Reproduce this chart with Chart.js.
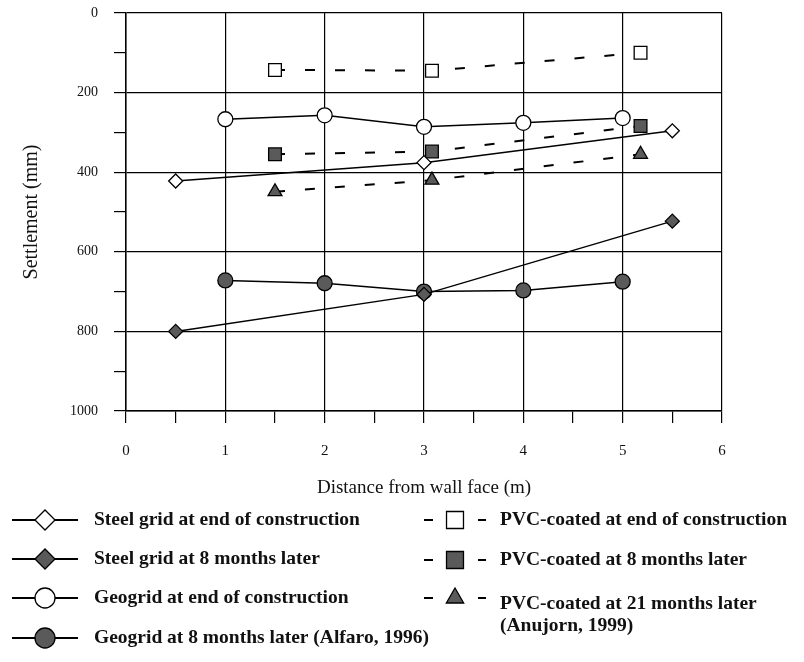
<!DOCTYPE html>
<html>
<head>
<meta charset="utf-8">
<script src="https://cdn.jsdelivr.net/npm/chart.js@4.4.0/dist/chart.umd.min.js"></script>
<style>
html, body { margin: 0; padding: 0; background: #fff; }
#wrap { width: 804px; height: 662px; }
</style>
</head>
<body>
<div id="wrap"><canvas id="grafico" width="804" height="662"></canvas></div>
<script>
// dados (recalque em mm x distancia em m)
const xSteel = [0.5, 3, 5.5];
const steelFim = [422, 376, 296];
const steel8m = [800, 707, 523];

const xGeo = [1, 2, 3, 4, 5];
const geoFim = [267, 257, 286, 276, 264];
const geo8m = [672, 679, 700, 697, 675];

const xPvc = [1.5, 3.08, 5.18];
const pvcFim = [143, 145, 100];
const pvc8m = [355, 348, 284];
const pvc21m = [449, 420, 355];

const xTicks = [0, 1, 2, 3, 4, 5, 6];
const yTicks = [0, 200, 400, 600, 800, 1000];

const nomes = [
    'Steel grid at end of construction',
    'Steel grid at 8 months later',
    'Geogrid at end of construction',
    'Geogrid at 8 months later (Alfaro, 1996)',
    'PVC-coated at end of construction',
    'PVC-coated at 8 months later',
    'PVC-coated at 21 months later\n(Anujorn, 1999)'
];

const FONTE = '"Liberation Serif", "Times New Roman", serif';
const CINZA = '#5a5a5a';

const pares = (xs, ys) => xs.map((x, i) => ({ x: x, y: ys[i] }));

function serie(label, xs, ys, estilo, preenchido, tracejado, raio) {
    return {
        label: label,
        data: pares(xs, ys),
        borderColor: '#000',
        borderWidth: tracejado ? 2 : 1.5,
        borderDash: tracejado ? [10, 20] : [],
        pointStyle: estilo,
        pointRadius: raio,
        pointHoverRadius: raio,
        pointBorderWidth: 1.3,
        pointBorderColor: '#000',
        pointBackgroundColor: preenchido ? CINZA : '#fff',
        fill: false,
        tension: 0
    };
}

const datasets = [
    serie(nomes[0], xSteel, steelFim, 'rectRot', false, false, 7),
    serie(nomes[2], xGeo, geoFim, 'circle', false, false, 7.5),
    serie(nomes[4], xPvc, pvcFim, 'rect', false, true, 9),
    serie(nomes[1], xSteel, steel8m, 'rectRot', true, false, 7),
    serie(nomes[3], xGeo, geo8m, 'circle', true, false, 7.5),
    serie(nomes[5], xPvc, pvc8m, 'rect', true, true, 9),
    serie(nomes[6], xPvc, pvc21m, 'triangle', true, true, 8)
];

// posicao de cada item da legenda: [indice do dataset, coluna, y]
const itensLegenda = [
    [0, 'esq', 520], [3, 'esq', 559], [1, 'esq', 598], [4, 'esq', 638],
    [2, 'dir', 520], [5, 'dir', 560], [6, 'dir', 598]
];

const legendaPlugin = {
    id: 'legendaCustom',
    afterDraw(chart) {
        const ctx = chart.ctx;
        ctx.save();
        itensLegenda.forEach(([idx, coluna, y]) => {
            const ds = chart.data.datasets[idx];
            const mx = coluna === 'esq' ? 45 : 455;
            const tx = coluna === 'esq' ? 94 : 500;
            ctx.strokeStyle = '#000';
            ctx.lineWidth = 2;
            ctx.setLineDash([]);
            ctx.beginPath();
            if (coluna === 'esq') {
                ctx.moveTo(12, y); ctx.lineTo(78, y);
            } else {
                ctx.moveTo(424, y); ctx.lineTo(433, y);
                ctx.moveTo(478, y); ctx.lineTo(486, y);
            }
            ctx.stroke();
            ctx.fillStyle = ds.pointBackgroundColor;
            ctx.strokeStyle = '#000';
            ctx.lineWidth = 1.3;
            Chart.helpers.drawPoint(ctx, {
                pointStyle: ds.pointStyle,
                radius: ds.pointStyle === 'circle' ? 10 : (ds.pointStyle === 'rect' ? 12 : 10),
                rotation: 0,
                borderWidth: 1.3
            }, mx, y);
            ctx.fillStyle = '#111';
            ctx.font = 'bold 19.5px ' + FONTE;
            ctx.textBaseline = 'middle';
            ctx.textAlign = 'left';
            const linhas = ds.label.split('\n');
            const ty = linhas.length > 1 ? y + 6 : y;
            linhas.forEach((t, i) => ctx.fillText(t, tx, ty + i * 22));
        });
        ctx.restore();
    }
};

const ctx = document.getElementById('grafico').getContext('2d');
new Chart(ctx, {
    type: 'line',
    data: { datasets: datasets },
    options: {
        responsive: false,
        animation: false,
        layout: { padding: { left: 20, right: 82, top: 13, bottom: 163 } },
        plugins: { legend: { display: false }, tooltip: { enabled: false } },
        scales: {
            x: {
                type: 'linear',
                min: 0, max: 6,
                afterFit: (s) => { s.height = 88; s.paddingLeft = 0; s.paddingRight = 0; },
                ticks: {
                    stepSize: 0.5,
                    autoSkip: false,
                    maxRotation: 0,
                    padding: 19,
                    color: '#111',
                    font: { family: FONTE, size: 15 },
                    callback: (v) => xTicks.includes(v) ? String(v) : ''
                },
                grid: {
                    color: (c) => xTicks.includes(c.tick && c.tick.value) ? '#000' : 'rgba(0,0,0,0)',
                    tickColor: '#000',
                    tickLength: 12,
                    lineWidth: 1.2
                },
                border: { color: '#000', width: 1.5 },
                title: {
                    display: true,
                    text: 'Distance from wall face (m)',
                    color: '#111',
                    font: { family: FONTE, size: 19 },
                    padding: { top: 0, bottom: 0 }
                }
            },
            y: {
                type: 'linear',
                reverse: true,
                min: 0, max: 1000,
                afterFit: (s) => { s.width = 106; s.paddingTop = 0; s.paddingBottom = 0; },
                ticks: {
                    stepSize: 100,
                    autoSkip: false,
                    padding: 16,
                    color: '#111',
                    font: { family: FONTE, size: 14 },
                    callback: (v) => yTicks.includes(v) ? String(v) : ''
                },
                grid: {
                    color: (c) => yTicks.includes(c.tick && c.tick.value) ? '#000' : 'rgba(0,0,0,0)',
                    tickColor: '#000',
                    tickLength: 12,
                    lineWidth: 1.2
                },
                border: { color: '#000', width: 1.5 },
                title: {
                    display: true,
                    text: 'Settlement (mm)',
                    color: '#111',
                    font: { family: FONTE, size: 20 },
                    padding: { top: 0, bottom: 0 }
                }
            }
        }
    },
    plugins: [legendaPlugin]
});
</script>
</body>
</html>
